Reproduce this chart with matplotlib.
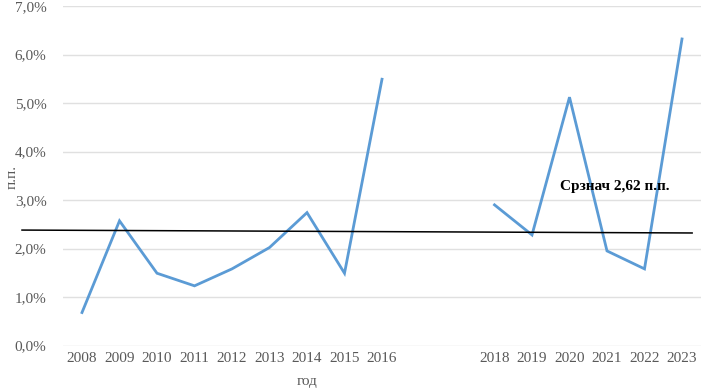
import numpy as np
import matplotlib
matplotlib.use("Agg")
import matplotlib.pyplot as plt
from matplotlib.ticker import FuncFormatter

categories = ['2008', '2009', '2010', '2011', '2012', '2013', '2014', '2015', '2016',
              '', '', '2018', '2019', '2020', '2021', '2022', '2023']
values = [0.68, 2.57, 1.49, 1.23, 1.58, 2.02, 2.74, 1.49, 5.49,
          np.nan, np.nan, 2.90, 2.28, 5.12, 1.95, 1.58, 6.32]
trend_x = [-1.6, 16.27]
trend_y = [2.38, 2.32]
annotation = 'Срзнач 2,62 п.п.'

plt.rcParams['font.family'] = ['Liberation Serif', 'DejaVu Serif']

fig = plt.figure(figsize=(7.01, 3.91), dpi=100)
ax = fig.add_axes([63.25 / 701, (391 - 345.5) / 391, (700.75 - 63.25) / 701, 339.5 / 391])

x = np.arange(len(categories))
ax.plot(x, values, color='#5B9BD5', lw=2.0, solid_joinstyle='miter')
ax.plot(trend_x, trend_y, color='#000000', lw=1.1, clip_on=False)

ax.set_xlim(-0.5, len(categories) - 0.5)
ax.set_ylim(0, 7)
ax.set_yticks(np.arange(0, 8, 1))
ax.yaxis.set_major_formatter(FuncFormatter(lambda v, p: f"{v:.1f}%".replace('.', ',')))
ax.set_xticks(x)
ax.set_xticklabels(categories)
ax.grid(axis='y', color='#E0E0E0', lw=1.0)
ax.set_axisbelow(True)
for s in ax.spines.values():
    s.set_visible(False)
ax.tick_params(length=0, labelsize=11, colors='#595959')
ax.tick_params(axis='y', pad=12)
ax.tick_params(axis='x', pad=5)

ax.text(12.75, 3.28, annotation, fontsize=11, fontweight='bold', color='#000000',
        va='center', ha='left')

fig.text(12 / 701, 1 - 177 / 391, 'п.п.', rotation=90, fontsize=11, color='#595959',
         ha='center', va='center')
fig.text(307 / 701, 1 - 382 / 391, 'год', fontsize=11, color='#595959',
         ha='center', va='center')

fig.savefig('out.png', dpi=100)
